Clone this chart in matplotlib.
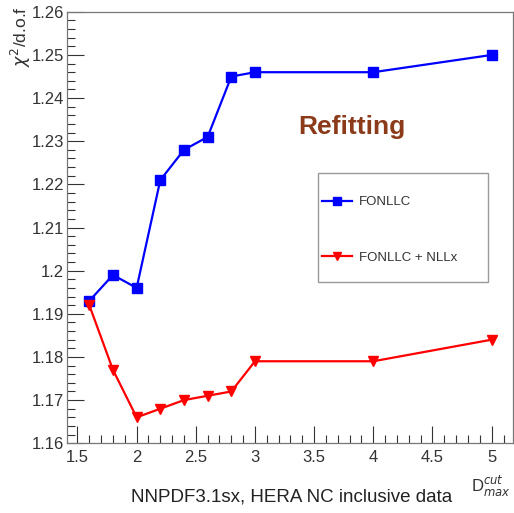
import matplotlib
matplotlib.use("Agg")
import matplotlib.pyplot as plt
from matplotlib.ticker import MultipleLocator
from matplotlib.patches import Rectangle

plt.rcParams['font.family'] = ['Liberation Sans', 'DejaVu Sans']

x_vals = [1.6, 1.8, 2.0, 2.2, 2.4, 2.6, 2.8, 3.0, 4.0, 5.0]
fonllc = [1.193, 1.199, 1.196, 1.221, 1.228, 1.231, 1.245, 1.246, 1.246, 1.250]
fonllc_nllx = [1.192, 1.177, 1.166, 1.168, 1.170, 1.171, 1.172, 1.179, 1.179, 1.184]
labels = ["FONLLC", "FONLLC + NLLx"]

fig = plt.figure(figsize=(5.14, 5.13), dpi=100)
ax = fig.add_axes([0.130, 0.136, 0.868, 0.841])

ax.plot(x_vals, fonllc, color='#0000ff', lw=1.6, marker='s', ms=7, label=labels[0])
ax.plot(x_vals, fonllc_nllx, color='#ff0000', lw=1.6, marker='v', ms=7, label=labels[1])

ax.xaxis.set_major_locator(MultipleLocator(0.5))
ax.xaxis.set_minor_locator(MultipleLocator(0.1))
ax.yaxis.set_major_locator(MultipleLocator(0.01))
ax.yaxis.set_minor_locator(MultipleLocator(0.002))
ax.set_xlim(1.41, 5.18)
ax.set_ylim(1.16, 1.26)
ax.tick_params(which='both', direction='in', top=False, right=False, labelsize=12, colors='#333333')
ax.tick_params(which='major', length=12, width=0.8)
ax.tick_params(which='minor', length=6, width=0.8)
ax.tick_params(axis='x', pad=5)
ax.tick_params(axis='y', pad=2)
xt = [1.5, 2.0, 2.5, 3.0, 3.5, 4.0, 4.5, 5.0]
yt = [1.16, 1.17, 1.18, 1.19, 1.20, 1.21, 1.22, 1.23, 1.24, 1.25, 1.26]
ax.set_xticks(xt)
ax.set_xticklabels([f"{v:g}" for v in xt])
ax.set_yticks(yt)
ax.set_yticklabels([f"{v:g}" for v in yt])
ax.set_xlim(1.41, 5.18)
ax.set_ylim(1.16, 1.26)
for s in ax.spines.values():
    s.set_color('#777777')
    s.set_linewidth(0.9)

fig.text(0.040, 0.988, r"$\chi^2$/d.o.f", rotation=90, ha='center', va='top', fontsize=12.5, color='#333333')
fig.text(0.955, 0.052, r"D$^{cut}_{max}$", ha='center', va='center', fontsize=12, color='#333333')
fig.text(0.568, 0.031, "NNPDF3.1sx, HERA NC inclusive data", ha='center', va='center', fontsize=13.5, color='#222222')

fig.text(0.685, 0.752, "Refitting", ha='center', va='center', fontsize=19,
         fontweight='bold', color='#8b3a1a')

# legend frame drawn separately
rect = Rectangle((318/514, 1-282/513), 170/514, 109/513, transform=fig.transFigure,
                 fill=True, facecolor='white', edgecolor='#999999', lw=1.0, zorder=5, clip_on=False)
ax.add_patch(rect)
leg = ax.legend(loc='upper left', bbox_to_anchor=(322/514, 1-196/513), bbox_transform=fig.transFigure,
                fontsize=9.5, frameon=False, labelspacing=3.3, markerscale=0.85,
                handlelength=2.3, borderpad=0.0, handletextpad=0.5, borderaxespad=0)
leg.set_zorder(6)
for t in leg.get_texts():
    t.set_color('#333333')

fig.savefig("out.png", dpi=100)
